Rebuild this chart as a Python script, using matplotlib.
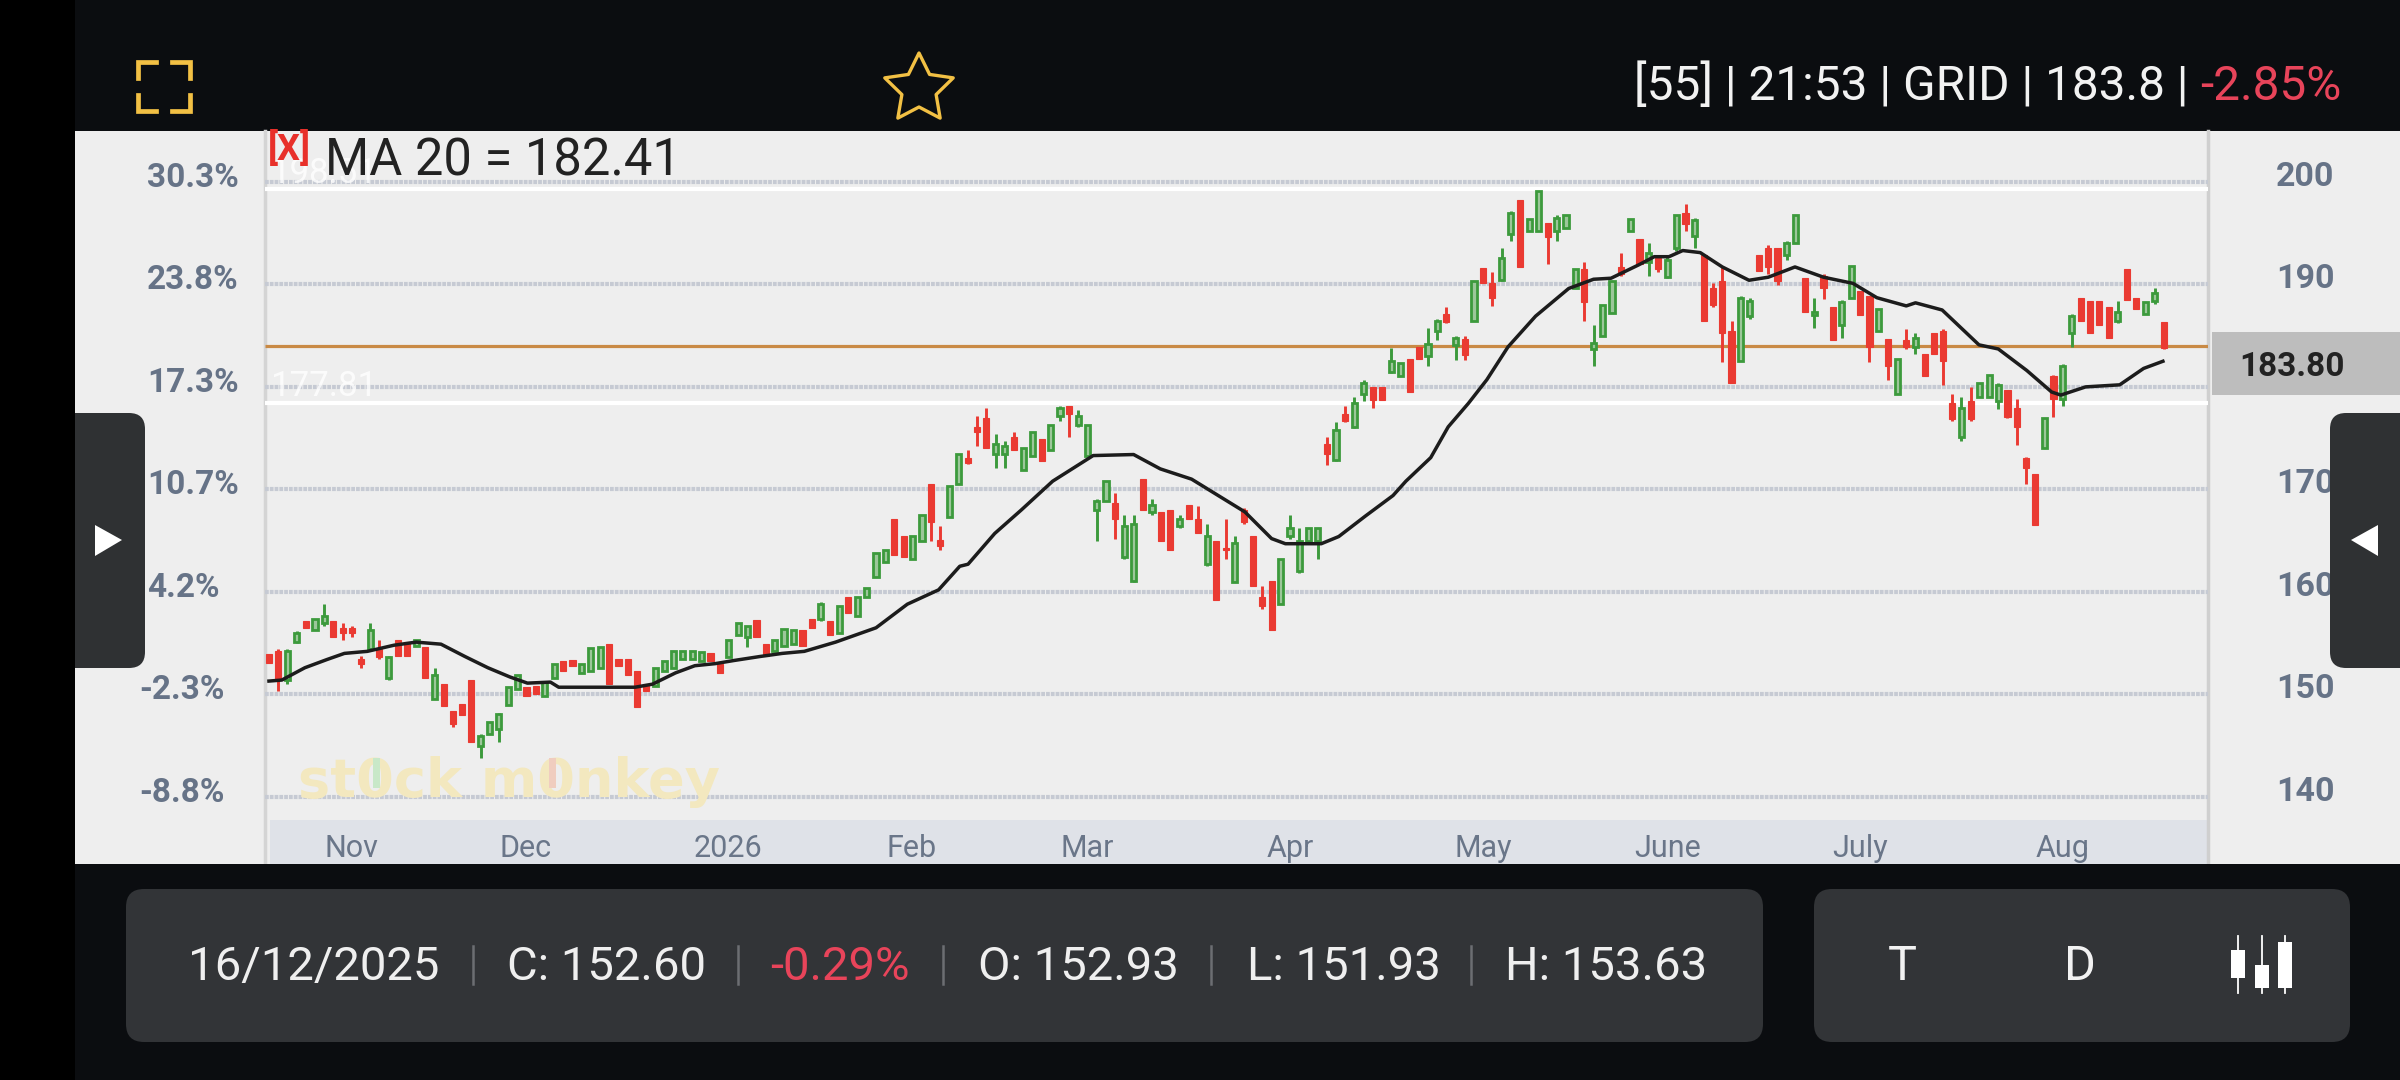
import numpy as np
import matplotlib
matplotlib.use('Agg')
import matplotlib.pyplot as plt
from matplotlib.patches import FancyBboxPatch, Rectangle, Polygon

plt.rcParams['font.family'] = ['Roboto', 'DejaVu Sans']

# Candle values, one per session
opens = [153.9,154.2,151.4,155.1,157.2,156.3,157.0,157.2,156.5,156.5,
         153.5,154.4,154.4,151.6,155.3,155.1,154.7,154.6,149.6,151.0,
         148.4,149.1,151.4,145.0,146.1,146.6,149.0,150.5,150.7,150.8,
         149.8,151.6,153.3,153.4,152.1,152.3,152.6,154.9,153.5,153.5,
         152.3,151.0,150.8,152.3,152.6,153.5,153.5,153.3,154.0,153.0,
         153.6,155.8,155.6,157.3,154.9,154.2,154.7,154.9,156.3,157.4,
         157.4,157.2,156.0,159.5,157.6,159.5,161.5,162.9,167.1,165.5,
         163.2,165.0,170.5,165.1,167.3,170.5,173.1,176.1,177.0,173.5,
         173.5,175.1,171.9,173.3,174.9,173.8,177.2,178.1,176.3,173.3,
         168.0,168.9,168.7,163.4,161.1,171.0,167.8,167.8,168.0,166.4,
         168.5,167.1,162.7,165.0,164.3,161.0,168.0,165.5,159.5,161.1,
         158.8,165.5,162.0,165.0,165.0,174.4,172.9,177.4,176.1,179.3,
         180.0,180.0,181.5,181.1,182.7,183.9,183.0,185.5,187.1,184.1,
         184.7,186.4,191.6,190.1,190.4,194.9,198.2,195.2,195.2,196.0,
         195.2,195.5,189.6,191.5,183.7,185.0,187.2,191.7,195.2,194.4,
         192.2,192.6,190.7,193.5,197.0,194.7,192.9,189.6,190.3,185.5,
         182.5,186.9,192.9,193.5,193.5,192.9,194.0,190.6,187.0,190.8,
         187.8,186.0,188.7,189.4,188.9,185.5,184.7,179.3,184.6,183.9,
         183.2,185.3,185.5,178.4,175.1,178.6,179.0,179.0,178.6,179.7,
         177.9,173.1,171.5,174.0,181.1,178.8,185.3,188.7,188.4,188.4,
         187.8,186.4,191.5,188.7,187.1,188.4,186.3]
closes = [153.1,151.4,154.2,156.0,156.5,157.4,157.6,155.6,156.0,156.0,
          153.0,156.3,153.6,153.6,153.7,153.7,155.3,151.6,151.9,148.9,
          147.1,148.0,145.4,145.9,147.3,148.1,150.7,151.9,149.8,150.0,
          151.2,153.0,152.3,152.8,153.0,154.5,154.6,151.0,152.8,151.9,
          148.8,150.3,152.6,153.3,154.2,154.2,154.2,154.1,153.3,152.1,
          155.3,157.0,156.7,155.6,153.7,155.3,156.4,156.3,154.7,156.5,
          158.8,155.8,158.6,157.9,159.5,160.4,163.8,164.1,163.6,163.4,
          165.5,167.5,166.8,164.5,170.3,173.5,172.6,175.6,174.0,174.4,
          174.2,173.8,174.0,175.6,172.8,176.3,177.9,177.4,177.2,176.3,
          168.9,170.8,167.1,166.4,166.6,168.0,168.5,165.0,164.1,167.1,
          167.1,165.7,165.5,159.2,164.1,164.8,166.8,160.6,158.6,156.3,
          163.2,166.2,165.0,166.2,166.2,173.5,175.8,176.7,178.4,180.4,
          178.7,178.7,182.5,182.3,179.5,182.7,184.2,186.4,186.3,184.8,
          183.1,190.3,190.1,188.7,192.6,197.0,191.7,196.4,199.1,194.6,
          196.5,196.8,191.5,188.3,184.3,188.0,190.3,191.0,196.4,192.0,
          193.1,191.5,192.4,196.8,195.9,196.3,186.4,188.0,185.3,180.4,
          188.7,188.4,191.3,191.7,190.3,194.0,196.8,187.3,187.3,189.6,
          184.6,188.3,191.8,187.0,183.9,187.6,182.0,182.7,183.9,184.8,
          181.1,183.2,182.5,176.9,177.9,176.9,180.4,181.2,180.2,177.1,
          176.1,172.1,166.5,177.0,178.8,182.0,186.9,186.4,185.3,186.0,
          184.8,187.3,188.5,187.6,188.3,189.2,183.8]
highs = [153.9,154.4,154.4,156.2,157.2,157.4,158.8,157.2,157.0,156.7,
         153.7,157.0,155.3,153.7,155.3,155.1,155.3,154.6,152.6,151.0,
         148.4,149.1,151.4,146.1,147.3,148.2,150.7,151.9,150.7,150.8,
         151.2,153.0,153.3,153.4,153.0,154.5,154.6,154.9,153.5,153.5,
         152.3,151.0,152.6,153.3,154.2,154.2,154.2,154.1,154.0,153.0,
         155.3,157.0,156.7,157.3,154.9,155.3,156.4,156.3,156.3,157.4,
         159.0,157.2,158.6,159.5,159.5,160.4,163.8,164.1,167.1,165.5,
         165.5,167.5,170.5,166.4,170.3,173.5,173.8,177.2,177.9,175.4,
         174.7,175.6,174.0,175.6,174.9,176.3,178.1,178.1,177.7,176.3,
         169.1,170.8,169.6,167.5,167.5,171.0,169.1,167.8,168.0,167.5,
         168.5,168.4,166.6,165.0,167.1,165.5,168.2,165.5,160.6,161.1,
         163.2,167.5,166.2,166.2,166.2,175.1,176.6,178.1,179.0,180.7,
         180.0,180.0,183.8,182.3,182.7,183.9,185.7,186.6,187.8,185.0,
         185.0,190.3,191.6,191.2,193.5,197.2,198.2,196.4,199.1,196.0,
         196.8,196.8,191.5,192.2,186.0,188.0,190.3,193.1,196.4,194.4,
         194.0,192.9,192.9,196.8,197.8,196.5,192.9,190.1,191.7,186.4,
         188.9,188.7,192.9,193.8,193.5,194.2,196.8,190.6,188.7,191.0,
         187.8,188.5,191.8,189.4,188.9,187.6,184.7,182.7,185.6,185.3,
         183.2,185.3,185.6,179.3,179.0,180.0,180.4,181.2,180.4,179.7,
         178.8,173.2,171.5,177.0,181.2,182.2,187.1,188.7,188.4,188.4,
         187.8,188.4,191.5,188.7,188.3,189.6,186.3]
lows = [153.1,150.3,151.0,155.0,156.5,156.3,156.7,155.6,155.3,155.6,
        152.6,154.2,153.5,151.4,153.7,153.7,154.7,151.6,149.6,148.9,
        146.8,148.0,145.4,143.8,146.1,145.4,149.0,150.5,149.8,150.0,
        149.8,151.6,152.3,152.8,152.1,152.3,152.6,151.0,152.8,151.9,
        148.8,150.3,150.8,152.3,152.6,153.5,153.5,153.3,153.3,152.1,
        153.6,155.8,154.6,155.6,153.7,154.2,154.7,154.9,154.7,156.5,
        157.2,155.8,156.0,157.9,157.6,159.5,161.5,162.9,163.6,163.4,
        163.2,165.0,165.0,164.1,167.3,170.5,172.5,174.2,174.0,172.1,
        172.1,173.8,171.9,173.3,172.8,173.8,176.7,175.1,176.1,173.3,
        165.0,168.9,165.2,163.2,161.0,168.0,167.5,165.0,164.1,166.2,
        167.1,165.7,162.5,159.2,163.2,161.0,166.6,160.6,158.3,156.3,
        158.8,165.2,161.8,165.0,163.2,172.4,172.8,176.6,176.0,178.6,
        177.9,178.7,181.4,181.1,179.5,182.7,182.0,184.6,186.2,182.6,
        182.6,186.4,190.1,187.9,190.3,194.2,191.7,195.2,195.2,192.0,
        194.2,195.5,189.6,186.4,182.0,185.0,187.2,190.8,195.2,192.0,
        190.8,191.2,190.6,193.3,195.2,193.5,186.4,187.8,182.4,180.4,
        182.5,186.6,191.3,191.0,189.9,192.4,194.0,187.3,185.7,188.6,
        184.6,184.8,188.7,187.0,182.4,185.5,180.7,179.3,183.7,183.2,
        181.1,183.2,180.2,176.7,174.7,176.7,179.0,179.0,177.8,177.0,
        174.3,170.5,166.5,174.0,177.1,178.1,183.9,186.4,185.3,186.0,
        184.8,186.2,188.5,187.6,187.1,188.1,183.7]

# MA 20 line, read at a set of sessions
ma_sessions = [0,1.4,3.9,6.3,8.2,10.7,13.6,16,18.7,21.3,23.8,26.2,28.1,30.6,31.5,35.9,39.8,41.7,44.2,46.3,
               48.5,50.5,53.4,55.8,58.2,61.6,66,69.4,72.8,75.1,76,78.9,81.8,85.2,89.6,94,96.9,100.3,103.2,106.1,
               109,110.5,114.4,116.3,119.2,122.2,123.6,126.3,128.2,130.4,132.4,134.7,137.7,141.3,144,145.9,148.9,
               150.6,152.2,153.7,155.6,158,160.9,163,165.9,169,172.2,174.8,178,179,181.9,185.9,188,191.1,193.8,
               194.8,197.5,201.2,203.8,205.9]
ma_values = [151.3,151.4,152.6,153.4,154.0,154.2,154.8,155.1,154.9,153.7,152.6,151.7,151.1,151.2,150.7,150.7,150.7,151.0,152.1,152.8,
             153.0,153.3,153.7,154.0,154.2,155.1,156.5,158.8,160.2,162.5,162.7,165.7,168.0,170.8,173.3,173.4,172.0,171.0,169.4,167.8,
             165.2,164.7,164.7,165.4,167.4,169.4,170.8,173.1,176.1,178.4,180.7,183.9,186.9,189.6,190.5,190.6,191.9,
             192.7,192.7,193.3,193.1,191.7,190.4,190.7,191.7,190.7,190.1,188.7,187.9,188.2,187.5,184.1,183.7,181.6,179.5,
             179.2,180.0,180.2,181.8,182.5]

price_ticks = [200, 190, 180, 170, 160, 150, 140]
price_labels = ['200', '190', '', '170', '160', '150', '140']
pct_labels = ['30.3%', '23.8%', '17.3%', '10.7%', '4.2%', '-2.3%', '-8.8%']
month_sessions = [9, 27.9, 49.9, 69.9, 89, 111, 132, 152, 173, 195]
month_labels = ['Nov', 'Dec', '2026', 'Feb', 'Mar', 'Apr', 'May', 'June', 'July', 'Aug']
last_price_line = 183.95
band_prices = [199.3, 178.45]
band_labels = ['198.51', '177.81']
ohlc_fields = ['16/12/2025', 'C: 152.60', '-0.29%', 'O: 152.93', 'L: 151.93', 'H: 153.63']

W, H = 2400, 1080
fig = plt.figure(figsize=(24, 10.8), dpi=100, facecolor='#000000')

def px_axes(left, top, right, bottom, z):
    a = fig.add_axes([left / W, 1 - bottom / H, (right - left) / W, (bottom - top) / H], zorder=z)
    return a

# ---------------------------------------------------------
# BACKGROUND (screen in pixel coordinates)
# ---------------------------------------------------------
bg = px_axes(0, 0, W, H, 0)
bg.set_xlim(0, W)
bg.set_ylim(H, 0)
bg.axis('off')
bg.add_patch(Rectangle((75, 0), W - 75, H, color='#0b0d10', lw=0))
bg.add_patch(Rectangle((75, 131), W - 75, 733, color='#eeeeee', lw=0))
bg.add_patch(Rectangle((270, 820), 1938, 44, color='#dfe2e8', lw=0))
bg.plot([265, 265], [131, 864], color='#d4d4d4', lw=2.5)
bg.plot([2208, 2208], [131, 864], color='#cfcfcf', lw=2.5)
bg.add_patch(Rectangle((2212, 332), 188, 63, color='#bdbdbd', lw=0))

# ---------------------------------------------------------
# PRICE CHART
# ---------------------------------------------------------
ax = px_axes(265, 130, 2208, 862, 2)
ax.patch.set_alpha(0)
ax.set_xlim(-0.43, 210.8)
ax.set_ylim(133.65, 205.06)
for s in ax.spines.values():
    s.set_visible(False)

sessions = np.arange(len(opens))
opens = np.array(opens)
closes = np.array(closes)
highs = np.array(highs)
lows = np.array(lows)
up = closes >= opens

ax.hlines(price_ticks, 0, 1, transform=ax.get_yaxis_transform(), color='#c6cad3', lw=3, linestyle=(0, (0.9, 0.25)), zorder=1)
ax.hlines(band_prices, 0, 1, transform=ax.get_yaxis_transform(), color='#ffffff', lw=3, zorder=2)
ax.hlines(last_price_line, 0, 1, transform=ax.get_yaxis_transform(), color='#c98a45', lw=2.3, zorder=2)

ax.vlines(sessions[up], lows[up], highs[up], color='#3c9a3c', lw=2.1, zorder=3)
ax.vlines(sessions[~up], lows[~up], highs[~up], color='#ea3a32', lw=2.1, zorder=3)
ax.bar(sessions[up], (closes - opens)[up], bottom=opens[up], width=0.56, facecolor='#9cc79a', edgecolor='#3c9a3c', linewidth=2, zorder=4)
ax.bar(sessions[~up], (opens - closes)[~up], bottom=closes[~up], width=0.66, facecolor='#ea3a32', edgecolor='#ea3a32', linewidth=0.8, zorder=4)
ax.plot(ma_sessions, ma_values, color='#1c1c1c', lw=2.5, solid_joinstyle='round', zorder=5)

ax.set_xticks(month_sessions, month_labels)
ax.tick_params(axis='x', length=0, pad=-20, labelsize=22, labelcolor='#6a7689')
ax.set_yticks([])

for p, lab in zip(price_ticks, price_labels):
    ax.annotate(lab, xy=(1, p), xycoords=ax.get_yaxis_transform(), xytext=(68, 5), textcoords='offset pixels',
                fontsize=24.5, fontweight='bold', color='#667387', ha='left', va='center', annotation_clip=False)
for p, lab in zip(price_ticks, pct_labels):
    dx = -126 if lab.startswith('-') else -118
    ax.annotate(lab, xy=(0, p), xycoords=ax.get_yaxis_transform(), xytext=(dx, 4), textcoords='offset pixels',
                fontsize=24, fontweight='bold', color='#667387', ha='left', va='center', annotation_clip=False)
for p, lab in zip(band_prices, band_labels):
    ax.annotate(lab, xy=(0, p), xycoords=ax.get_yaxis_transform(), xytext=(5, 16), textcoords='offset pixels',
                fontsize=25, color='#ffffff', alpha=0.8, ha='left', va='center', zorder=6)

ax.annotate('183.80', xy=(1, closes[-1]), xycoords=ax.get_yaxis_transform(), xytext=(84, -19), textcoords='offset pixels',
            fontsize=24, fontweight='bold', color='#222222', ha='center', va='center', annotation_clip=False)

# ---------------------------------------------------------
# OVERLAY (buttons, bars, icons)
# ---------------------------------------------------------
ui = px_axes(0, 0, W, H, 5)
ui.set_xlim(0, W)
ui.set_ylim(H, 0)
ui.axis('off')
ui.patch.set_alpha(0)

ui.add_patch(Rectangle((75, 864), W - 75, H - 864, color='#0b0d10', lw=0))
ui.text(268, 150, '[X]', fontsize=26, fontweight='bold', color='#e8302a', ha='left', va='center')
ui.text(325, 161, 'MA 20 = 182.41', fontsize=36.5, color='#222222', ha='left', va='center')

# watermark
ui.text(298, 782, 'st0ck m0nkey', fontsize=39, fontweight='bold', family='DejaVu Sans', color='#f3e8bf', ha='left', va='center', zorder=1)
ui.add_patch(Rectangle((373, 758), 7, 30, color='#c8e8c8', lw=0, zorder=2))
ui.add_patch(Rectangle((549, 758), 7, 30, color='#f0cdbf', lw=0, zorder=2))

# side buttons
ui.add_patch(FancyBboxPatch((60, 413), 85, 255, boxstyle='round,pad=0,rounding_size=16', color='#2f3133', lw=0))
ui.add_patch(Rectangle((0, 400), 75, 280, color='#000000', lw=0))
ui.add_patch(Rectangle((75, 413), 30, 255, color='#2f3133', lw=0))
ui.add_patch(FancyBboxPatch((2330, 413), 100, 255, boxstyle='round,pad=0,rounding_size=16', color='#2f3133', lw=0))
ui.add_patch(Polygon([(95, 525), (95, 556), (122, 540)], color='#ffffff', lw=0))
ui.add_patch(Polygon([(2378, 525), (2378, 556), (2351, 540)], color='#ffffff', lw=0))

# top bar
gold = '#f2c044'
for xs, ys in [([138, 138, 156], [78, 62, 62]), ([172, 190, 190], [62, 62, 78]),
               ([138, 138, 156], [95, 111, 111]), ([172, 190, 190], [111, 111, 95])]:
    ui.plot(xs, ys, color=gold, lw=3.4, solid_joinstyle='miter')
angles = np.deg2rad(np.arange(10) * 36 - 90)
radii = np.where(np.arange(10) % 2 == 0, 36, 18)
ui.add_patch(Polygon(np.c_[919 + radii * np.cos(angles), 89 + radii * np.sin(angles)], closed=True, fill=False, edgecolor=gold, lw=2.4, joinstyle='round'))
ui.text(1634, 87, '[55] | 21:53 | GRID | 183.8 |', fontsize=34.4, color='#f2f2f2', ha='left', va='center')
ui.text(2200, 87, '-2.85%', fontsize=34.4, color='#e8445a', ha='left', va='center')

# bottom panels
ui.add_patch(FancyBboxPatch((126, 889), 1637, 153, boxstyle='round,pad=0,rounding_size=18', color='#323437', lw=0))
ui.add_patch(FancyBboxPatch((1814, 889), 536, 153, boxstyle='round,pad=0,rounding_size=18', color='#323437', lw=0))
field_x = [188, 507, 770, 978, 1247, 1505]
for x, txt in zip(field_x, ohlc_fields):
    ui.text(x, 967, txt, fontsize=34, color='#e8445a' if txt.startswith('-') else '#efefef', ha='left', va='center')
for x in [473, 738, 943, 1211, 1471]:
    ui.plot([x, x], [946, 984], color='#6c6e72', lw=1.8)
ui.text(1902, 967, 'T', fontsize=35, color='#f2f2f2', ha='center', va='center')
ui.text(2080, 967, 'D', fontsize=35, color='#f2f2f2', ha='center', va='center')
for x, top, bot in [(2238, 950, 978), (2262, 965, 988), (2285, 942, 988)]:
    ui.plot([x, x], [936, 993], color='#ffffff', lw=1.3)
    ui.add_patch(Rectangle((x - 7, top), 14, bot - top, color='#ffffff', lw=0))

fig.savefig('out.png', dpi=100, facecolor=fig.get_facecolor())
